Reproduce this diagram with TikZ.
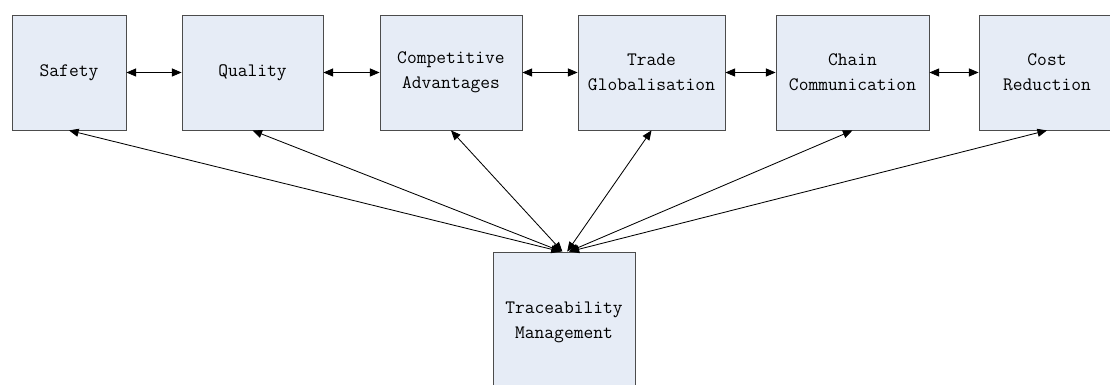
\documentclass[tikz,border=0pt]{standalone}
\usepackage{tikz}
\usetikzlibrary{arrows.meta,positioning}
\definecolor{boxfill}{RGB}{230,236,246}
\tikzset{font={\fontsize{13.5pt}{17.8pt}\selectfont\ttfamily}}
\tikzset{
	factor/.style={rectangle, draw=black!70, line width=0.6pt, fill=boxfill, align=center, inner sep=0pt},
	link/.style={{Triangle[length=0.24cm,width=0.2cm]}-{Triangle[length=0.24cm,width=0.2cm]}, line width=0.6pt}
	}

\begin{document}
\begin{tikzpicture}
                \useasboundingbox (0,0) rectangle (27.75,-9.625);
                % top row of factors
                \node (safety) [factor, minimum width=2.85cm, minimum height=2.875cm] at (1.725,-1.8125) {Safety};
                \node (quality) [factor, minimum width=3.525cm, minimum height=2.875cm] at (6.3125,-1.8125) {Quality};
                \node (advant) [factor, minimum width=3.55cm, minimum height=2.875cm] at (11.275,-1.8125) {Competitive\\Advantages};
                \node (trade) [factor, minimum width=3.675cm, minimum height=2.875cm] at (16.2875,-1.8125) {Trade\\Globalisation};
                \node (chain) [factor, minimum width=3.825cm, minimum height=2.875cm] at (21.3125,-1.8125) {Chain\\Communication};
                \node (cost) [factor, minimum width=3.4cm, minimum height=2.875cm] at (26.175,-1.8125) {Cost\\Reduction};
                % management box below
                \node (trace) [factor, minimum width=3.55cm, minimum height=3.5cm] at (14.1,-8.05) {Traceability\\Management};
                % links between neighbours
                \draw[link] (safety) -- (quality);
                \draw[link] (quality) -- (advant);
                \draw[link] (advant) -- (trade);
                \draw[link] (trade) -- (chain);
                \draw[link] (chain) -- (cost);
                % links down to management
                \draw[link] (safety.south) -- ([xshift=-0.08cm]trace.north);
                \draw[link] (quality.south) -- ([xshift=-0.06cm]trace.north);
                \draw[link] (advant.south) -- ([xshift=-0.04cm]trace.north);
                \draw[link] (trade.south) -- ([xshift=0.08cm]trace.north);
                \draw[link] (chain.south) -- ([xshift=0.12cm]trace.north);
                \draw[link] (cost.south) -- ([xshift=0.14cm]trace.north);
            \end{tikzpicture}
\end{document}
